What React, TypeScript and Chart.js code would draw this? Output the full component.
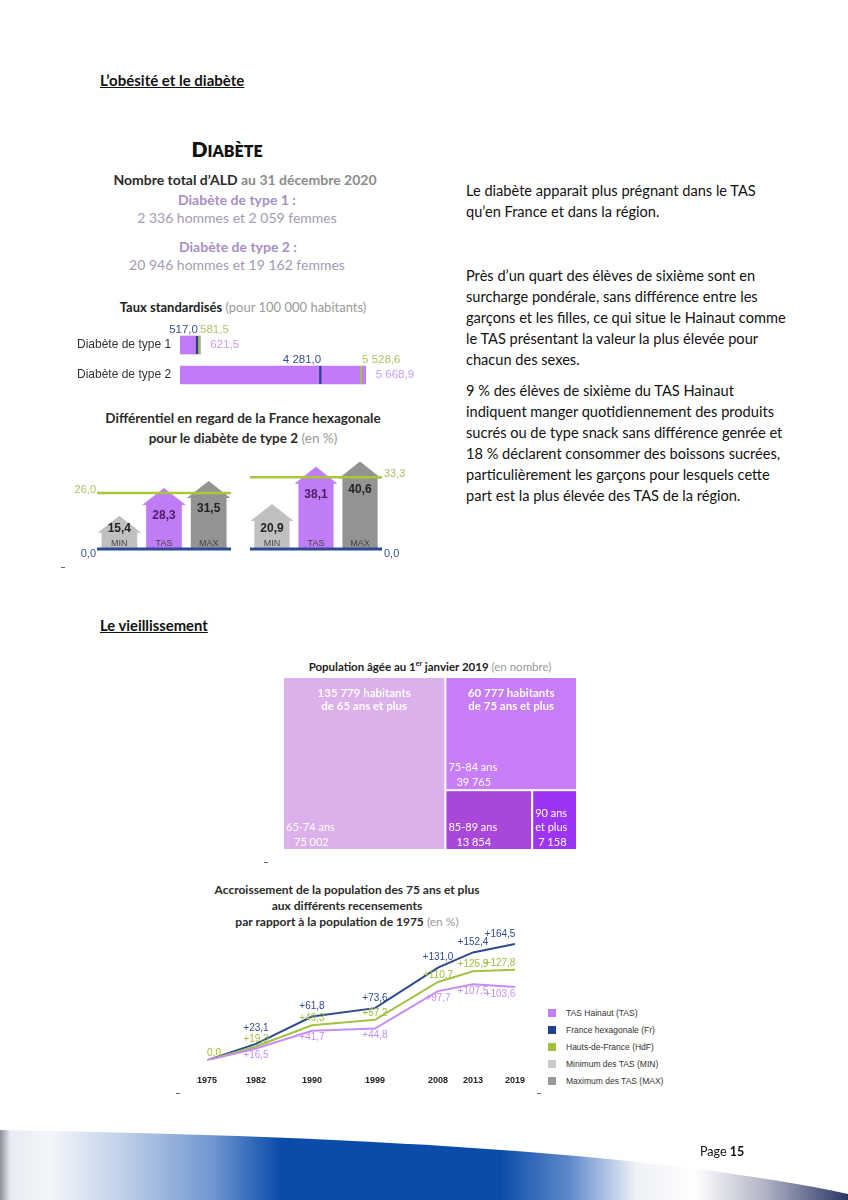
import React, { useEffect, useRef } from "react";
import { Chart, registerables } from "chart.js";

Chart.register(...registerables);

const FONT = "Lato, 'Open Sans', sans-serif";
const AR = "'Liberation Sans', Arial, sans-serif";

// ---------- data ----------
const growthYears = [1975, 1982, 1990, 1999, 2008, 2013, 2019];
const growthTas = [0, 16.5, 41.7, 44.8, 97.7, 107.5, 103.6];
const growthFr = [0, 23.1, 61.8, 73.6, 131.0, 152.4, 164.5];
const growthHdf = [0, 19.3, 49.3, 57.2, 110.7, 125.9, 127.8];
const growthLegend = [
  "TAS Hainaut (TAS)",
  "France hexagonale (Fr)",
  "Hauts-de-France (HdF)",
  "Minimum des TAS (MIN)",
  "Maximum des TAS (MAX)",
];

const rateCategories = ["Diabète de type 1", "Diabète de type 2"];
const rateTas = [621.5, 5668.9];
const rateFr = [517.0, 4281.0];
const rateHdf = [581.5, 5528.6];

const diffCategories = ["MIN", "TAS", "MAX"];
const diffLeft = [15.4, 28.3, 31.5];
const diffRight = [20.9, 38.1, 40.6];
const diffRefLeft = 26.0;
const diffRefRight = 33.3;

const ageLabels = ["65-74 ans", "75-84 ans", "85-89 ans", "90 ans et plus"];
const ageValues = [75002, 39765, 13854, 7158];

// ---------- styles ----------
const C_FR = "#2b4a8e";
const C_HDF = "#a3c140";
const legendColors = ["#c27ef6", "#1f3f8f", "#9fbf3b", "#c9c9c9", "#9a9a9a"];
const ageColors = ["#dcb0ea", "#c77ef6", "#a947da", "#9d33f3"];

function fr(v: number, d = 1) {
  const s = v.toFixed(d);
  const [i, f] = s.split(".");
  const ii = i.replace(/\B(?=(\d{3})+(?!\d))/g, " ");
  return f ? ii + "," + f : ii;
}

const common: any = {
  animation: false,
  responsive: true,
  maintainAspectRatio: false,
  events: [],
  plugins: { legend: { display: false }, tooltip: { enabled: false } },
};

function ChartBox({ x, y, w, h, make }: any) {
  const ref = useRef<HTMLCanvasElement>(null);
  useEffect(() => {
    const chart = new Chart(ref.current as HTMLCanvasElement, make());
    return () => chart.destroy();
  }, []);
  return (
    <div style={{ position: "absolute", left: x, top: y, width: w, height: h }}>
      <canvas ref={ref} />
    </div>
  );
}

// ---------- growth line chart ----------
const growthLabelPlugin = {
  id: "growthLabels",
  afterDatasetsDraw(chart: any) {
    const ctx = chart.ctx;
    ctx.save();
    ctx.font = `10px ${AR}`;
    ctx.textBaseline = "middle";
    ctx.textAlign = "center";
    const dsets = chart.data.datasets;
    const hdfIdx = dsets.findIndex((d: any) => d.role === "hdf");
    const hdfMeta = chart.getDatasetMeta(hdfIdx);
    dsets.forEach((ds: any, di: number) => {
      const meta = chart.getDatasetMeta(di);
      meta.data.forEach((pt: any, i: number) => {
        const v = ds.data[i].y;
        if (i === 0 && ds.role !== "hdf") return;
        const txt = (v > 0 ? "+" : "") + fr(v);
        let x = pt.x;
        let y = pt.y;
        if (ds.role === "fr") {
          y -= 10;
          const gy = hdfMeta.data[i].y - 7;
          if (y > gy - 11) y = gy - 11;
        } else if (ds.role === "hdf") y -= 7;
        else y += 7;
        if (i === 0) x += 7;
        if (i === meta.data.length - 1) x -= 15;
        ctx.fillStyle = ds.labelColor;
        ctx.fillText(txt, x, y);
      });
    });
    ctx.restore();
  },
};

const makeGrowth = () => ({
  type: "line",
  data: {
    datasets: [
      {
        role: "tas",
        label: growthLegend[0],
        data: growthYears.map((x, i) => ({ x, y: growthTas[i] })),
        borderColor: "#c68cf4",
        labelColor: "#c48ef0",
        borderWidth: 2,
        pointRadius: 0,
      },
      {
        role: "hdf",
        label: growthLegend[2],
        data: growthYears.map((x, i) => ({ x, y: growthHdf[i] })),
        borderColor: C_HDF,
        labelColor: "#9fbd3a",
        borderWidth: 2,
        pointRadius: 0,
      },
      {
        role: "fr",
        label: growthLegend[1],
        data: growthYears.map((x, i) => ({ x, y: growthFr[i] })),
        borderColor: C_FR,
        labelColor: "#2d4b8d",
        borderWidth: 2,
        pointRadius: 0,
      },
    ],
  },
  options: {
    ...common,
    layout: { padding: { left: 27, right: 20, top: 15, bottom: 0 } },
    scales: {
      x: {
        type: "linear",
        min: 1975,
        max: 2019,
        grid: { display: false, drawTicks: false },
        border: { display: false },
        afterBuildTicks: (s: any) => {
          s.ticks = growthYears.map((v) => ({ value: v }));
        },
        ticks: {
          autoSkip: false,
          maxRotation: 0,
          padding: 15,
          color: "#222",
          font: { family: AR, size: 9, weight: "bold" },
          callback: (v: any) => String(v),
        },
      },
      y: { display: false, min: 0, max: 170 },
    },
  },
  plugins: [growthLabelPlugin],
});

// ---------- standardised rates (horizontal bars) ----------
const ratePlugin = {
  id: "rateMarks",
  afterDatasetsDraw(chart: any) {
    const ctx = chart.ctx;
    const xs = chart.scales.x;
    const meta = chart.getDatasetMeta(0);
    ctx.save();
    ctx.textBaseline = "middle";
    meta.data.forEach((bar: any, i: number) => {
      const cy = bar.y;
      const hh = bar.height / 2;
      ctx.font = `12px ${AR}`;
      ctx.fillStyle = "#333";
      ctx.textAlign = "left";
      ctx.fillText(rateCategories[i], 7, cy);
      const xf = xs.getPixelForValue(rateFr[i]);
      const xh = xs.getPixelForValue(rateHdf[i]);
      ctx.fillStyle = C_HDF;
      ctx.fillRect(xh - 1, cy - hh, 2.2, hh * 2);
      ctx.fillStyle = "#24418a";
      ctx.fillRect(xf - 1, cy - hh, 2.2, hh * 2);
      ctx.font = `11.5px ${AR}`;
      ctx.fillStyle = "#3b4e8f";
      ctx.textAlign = "right";
      ctx.fillText(fr(rateFr[i]), xf + 1, cy - 15);
      ctx.fillStyle = "#adc466";
      ctx.textAlign = "left";
      ctx.fillText(fr(rateHdf[i]), xh + 1, cy - 15);
      ctx.fillStyle = "#c59cf0";
      ctx.fillText(fr(rateTas[i]), bar.x + 10, cy);
    });
    ctx.restore();
  },
};

const makeRates = () => ({
  type: "bar",
  data: {
    labels: rateCategories,
    datasets: [{ data: rateTas, backgroundColor: "#c17bf8", barThickness: 18 }],
  },
  options: {
    ...common,
    indexAxis: "y",
    layout: { padding: { left: 110, right: 8, top: 10, bottom: 5 } },
    scales: {
      x: { display: false, min: 0, max: 8000 },
      y: { display: false },
    },
  },
  plugins: [ratePlugin],
});

// ---------- arrow charts ----------
function makeArrowPlugin(ref: number, side: "left" | "right") {
  return {
    id: "arrows",
    afterDatasetsDraw(chart: any) {
      const ctx = chart.ctx;
      const ys = chart.scales.y;
      const area = chart.chartArea;
      const meta = chart.getDatasetMeta(0);
      const colors = ["#c0c0c0", "#c07cf5", "#939393"];
      const valColors = ["#222", "#4a1d63", "#222"];
      ctx.save();
      meta.data.forEach((bar: any, i: number) => {
        const sh = bar.width / 2;
        const hw = sh * 1.22;
        const headH = 17;
        const x = bar.x;
        const top = bar.y;
        const base = bar.base;
        ctx.fillStyle = colors[i];
        ctx.beginPath();
        ctx.moveTo(x - sh, base);
        ctx.lineTo(x - sh, top + headH);
        ctx.lineTo(x - hw, top + headH);
        ctx.lineTo(x, top);
        ctx.lineTo(x + hw, top + headH);
        ctx.lineTo(x + sh, top + headH);
        ctx.lineTo(x + sh, base);
        ctx.closePath();
        ctx.fill();
      });
      const yRef = ys.getPixelForValue(ref);
      const y0 = ys.getPixelForValue(0);
      ctx.strokeStyle = "#a8c83c";
      ctx.lineWidth = 2.5;
      ctx.beginPath();
      ctx.moveTo(area.left, yRef);
      ctx.lineTo(area.right, yRef);
      ctx.stroke();
      ctx.strokeStyle = "#2d4a94";
      ctx.lineWidth = 3;
      ctx.beginPath();
      ctx.moveTo(area.left, y0);
      ctx.lineTo(area.right, y0);
      ctx.stroke();
      ctx.font = `11px ${AR}`;
      ctx.textBaseline = "middle";
      if (side === "left") {
        ctx.textAlign = "right";
        ctx.fillStyle = "#a8c060";
        ctx.fillText(fr(ref), area.left - 1, yRef - 3);
        ctx.fillStyle = "#3b4f94";
        ctx.fillText(fr(0), area.left - 1, y0 + 5);
      } else {
        ctx.textAlign = "left";
        ctx.fillStyle = "#a8c060";
        ctx.fillText(fr(ref), area.right + 2, yRef - 3);
        ctx.fillStyle = "#3b4f94";
        ctx.fillText(fr(0), area.right + 2, y0 + 5);
      }
      ctx.textAlign = "center";
      meta.data.forEach((bar: any, i: number) => {
        const v = chart.data.datasets[0].data[i];
        ctx.font = `bold 12px ${AR}`;
        ctx.fillStyle = valColors[i];
        const ly = Math.min(bar.y + 28, bar.base - 20);
        ctx.fillText(fr(v), bar.x, ly);
        ctx.font = `9px ${AR}`;
        ctx.fillStyle = "#444";
        ctx.fillText(diffCategories[i], bar.x, bar.base - 5);
      });
      ctx.restore();
    },
  };
}

const makeArrow = (values: number[], ref: number, side: "left" | "right") => () => ({
  type: "bar",
  data: {
    labels: diffCategories,
    datasets: [
      {
        data: values,
        backgroundColor: "rgba(0,0,0,0)",
        barPercentage: 0.8,
        categoryPercentage: 1,
      },
    ],
  },
  options: {
    ...common,
    layout: {
      padding:
        side === "left"
          ? { left: 27, right: 9, top: 7, bottom: 16 }
          : { left: 10, right: 28, top: 7, bottom: 16 },
    },
    scales: { x: { display: false }, y: { display: false, min: 0, max: 45 } },
  },
  plugins: [makeArrowPlugin(ref, side)],
});

// ---------- treemap ----------
const treemapPlugin = {
  id: "treemap",
  afterDatasetsDraw(chart: any) {
    const ctx = chart.ctx;
    const xs = chart.scales.x;
    const ys = chart.scales.y;
    const total = ageValues.reduce((a, b) => a + b, 0);
    const old = total - ageValues[0];
    const veryOld = ageValues[2] + ageValues[3];
    const splitY = ageValues[1] / old;
    const splitX = ageValues[0] + (ageValues[2] / veryOld) * old;
    const cells = [
      [0, ageValues[0], 0, 1],
      [ageValues[0], total, 0, splitY],
      [ageValues[0], splitX, splitY, 1],
      [splitX, total, splitY, 1],
    ];
    ctx.save();
    const rects = cells.map((c) => {
      const l = xs.getPixelForValue(c[0]);
      const r = xs.getPixelForValue(c[1]);
      const t = ys.getPixelForValue(c[2]);
      const b = ys.getPixelForValue(c[3]);
      return { l: l + 1, r: r - 1, t: t + 1, b: b - 1 };
    });
    rects.forEach((rc, i) => {
      ctx.fillStyle = ageColors[i];
      ctx.fillRect(rc.l, rc.t, rc.r - rc.l, rc.b - rc.t);
    });
    ctx.fillStyle = "#fff";
    ctx.textBaseline = "middle";
    ctx.font = `bold 11.5px ${FONT}`;
    ctx.textAlign = "center";
    const head = (rc: any, n: number, age: number) => {
      const cx = (rc.l + rc.r) / 2;
      ctx.fillText(`${fr(n, 0)} habitants`, cx, rc.t + 15);
      ctx.fillText(`de ${age} ans et plus`, cx, rc.t + 28);
    };
    head(rects[0], total, 65);
    head(rects[1], old, 75);
    ctx.font = `11px ${FONT}`;
    ctx.textAlign = "left";
    rects.forEach((rc, i) => {
      const words = ageLabels[i].split(" ");
      const lines: string[] = [];
      let cur = "";
      words.forEach((w) => {
        const t = cur ? cur + " " + w : w;
        if (ctx.measureText(t).width > rc.r - rc.l - 6 && cur) {
          lines.push(cur);
          cur = w;
        } else cur = t;
      });
      lines.push(cur);
      lines.push(fr(ageValues[i], 0));
      const n = lines.length;
      lines.forEach((ln, k) => {
        const indent = k === n - 1 ? (n > 2 ? 3 : 8) : 0;
        ctx.fillText(ln, rc.l + 2 + indent, rc.b - 7 - (n - 1 - k) * 14.5);
      });
    });
    ctx.restore();
  },
};

const makeTreemap = () => ({
  type: "scatter",
  data: { datasets: [{ data: [] }] },
  options: {
    ...common,
    layout: { padding: 0 },
    scales: {
      x: { display: false, min: 0, max: ageValues.reduce((a, b) => a + b, 0) },
      y: { display: false, min: 0, max: 1, reverse: true },
    },
  },
  plugins: [treemapPlugin],
});

// ---------- page helpers ----------
function Txt({ x, y, w, align = "left", size = 14, weight = 400, color = "#111", lh, children, style }: any) {
  const l = lh ?? Math.round(size * 1.3);
  const centered = align === "center";
  return (
    <div
      style={{
        position: "absolute",
        left: centered ? x + w / 2 : x,
        top: y - l / 2,
        transform: centered ? "translateX(-50%)" : undefined,
        textAlign: align,
        fontSize: size,
        fontWeight: weight,
        color,
        lineHeight: l + "px",
        whiteSpace: "pre",
        ...style,
      }}
    >
      {children}
    </div>
  );
}

function Dash({ x, y }: any) {
  return <div style={{ position: "absolute", left: x, top: y, width: 4, height: 1, background: "#666" }} />;
}

export default function App() {
  const para = { size: 14.6, color: "#111", lh: 21 };
  const gt = { x: 197, w: 300, align: "center", weight: 700, size: 12, color: "#2a2a2a", lh: 16 };
  return (
    <div
      style={{
        position: "absolute",
        left: 0,
        top: 0,
        width: 848,
        height: 1200,
        background: "#fff",
        overflow: "hidden",
        fontFamily: FONT,
      }}
    >
      <Txt x={100} y={80} size={15} weight={700} style={{ textDecoration: "underline" }}>
        L’obésité et le diabète
      </Txt>

      {/* Diabète infographic */}
      <Txt x={127} y={148} w={200} align="center" weight={800} size={21} color="#111">
        D<span style={{ fontSize: 16 }}>IABÈTE</span>
      </Txt>
      <Txt x={95} y={180} w={300} align="center" weight={700} size={14} color="#2b2b2b">
        Nombre total d’ALD<span style={{ color: "#8c8c8c" }}> au 31 décembre 2020</span>
      </Txt>
      <Txt x={87} y={200} w={300} align="center" weight={700} size={14} color="#a58fc4">
        Diabète de type 1 :
      </Txt>
      <Txt x={87} y={218} w={300} align="center" size={14} color="#a49ab4">
        2 336 hommes et 2 059 femmes
      </Txt>
      <Txt x={88} y={247} w={300} align="center" weight={700} size={14} color="#a58fc4">
        Diabète de type 2 :
      </Txt>
      <Txt x={87} y={265} w={300} align="center" size={14} color="#a49ab4">
        20 946 hommes et 19 162 femmes
      </Txt>
      <Txt x={93} y={307} w={300} align="center" weight={700} size={13} color="#222">
        Taux standardisés<span style={{ fontWeight: 400, color: "#9a9a9a" }}> (pour 100 000 habitants)</span>
      </Txt>
      <ChartBox x={70} y={320} w={380} h={75} make={makeRates} />

      <Txt x={93} y={418} w={300} align="center" weight={700} size={13.5} color="#2a2a2a">
        Différentiel en regard de la France hexagonale
      </Txt>
      <Txt x={93} y={438} w={300} align="center" weight={700} size={13.5} color="#2a2a2a">
        pour le diabète de type 2<span style={{ fontWeight: 400, color: "#9a9a9a" }}> (en %)</span>
      </Txt>
      <ChartBox x={70} y={445} w={170} h={120} make={makeArrow(diffLeft, diffRefLeft, "left")} />
      <ChartBox x={240} y={445} w={170} h={120} make={makeArrow(diffRight, diffRefRight, "right")} />
      <Dash x={61} y={567} />

      {/* Right-hand text */}
      <Txt x={466} y={190} {...para}>
        {"Le diabète apparait plus prégnant dans le TAS\nqu’en France et dans la région."}
      </Txt>
      <Txt x={466} y={275} {...para}>
        {
          "Près d’un quart des élèves de sixième sont en\nsurcharge pondérale, sans différence entre les\ngarçons et les filles, ce qui situe le Hainaut comme\nle TAS présentant la valeur la plus élevée pour\nchacun des sexes."
        }
      </Txt>
      <Txt x={466} y={390} {...para}>
        {
          "9 % des élèves de sixième du TAS Hainaut\nindiquent manger quotidiennement des produits\nsucrés ou de type snack sans différence genrée et\n18 % déclarent consommer des boissons sucrées,\nparticulièrement les garçons pour lesquels cette\npart est la plus élevée des TAS de la région."
        }
      </Txt>

      <Txt x={100} y={625} size={14.8} weight={700} style={{ textDecoration: "underline" }}>
        Le vieillissement
      </Txt>

      {/* Treemap */}
      <Txt x={280} y={663} w={300} align="center" weight={700} size={11.5} color="#222">
        Population âgée au 1<sup style={{ fontSize: 7 }}>er</sup> janvier 2019
        <span style={{ fontWeight: 400, color: "#9a9a9a" }}> (en nombre)</span>
      </Txt>
      <ChartBox x={283} y={677} w={294} h={173} make={makeTreemap} />
      <Dash x={264} y={862} />

      {/* Growth chart */}
      <Txt y={890} {...gt}>Accroissement de la population des 75 ans et plus</Txt>
      <Txt y={906} {...gt}>aux différents recensements</Txt>
      <Txt y={922} {...gt}>
        par rapport à la population de 1975<span style={{ fontWeight: 400, color: "#9a9a9a" }}> (en %)</span>
      </Txt>
      <ChartBox x={180} y={925} w={360} h={176} make={makeGrowth} />
      <div style={{ position: "absolute", left: 548, top: 1004, fontFamily: AR }}>
        {growthLegend.map((t, i) => (
          <div key={t} style={{ display: "flex", alignItems: "center", height: 17.2 }}>
            <div style={{ width: 8, height: 8, background: legendColors[i], marginRight: 10 }} />
            <span style={{ fontSize: 8.5, color: "#333" }}>{t}</span>
          </div>
        ))}
      </div>
      <Dash x={176} y={1093} />
      <Dash x={537} y={1093} />

      {/* Footer */}
      <svg style={{ position: "absolute", left: 0, top: 1100 }} width={848} height={100}>
        <defs>
          <linearGradient id="band" x1="0" y1="0" x2="1" y2="0">
            <stop offset="0" stopColor="#8a8f99" />
            <stop offset="0.012" stopColor="#e8ecf2" />
            <stop offset="0.06" stopColor="#f3f6fa" />
            <stop offset="0.15" stopColor="#bccde7" />
            <stop offset="0.25" stopColor="#7097d0" />
            <stop offset="0.33" stopColor="#0b4cab" />
            <stop offset="0.59" stopColor="#0b4cab" />
            <stop offset="0.67" stopColor="#5d88c9" />
            <stop offset="0.75" stopColor="#eef1f6" />
            <stop offset="0.82" stopColor="#ffffff" />
            <stop offset="0.9" stopColor="#b2b6c6" />
            <stop offset="1" stopColor="#2a3565" />
          </linearGradient>
        </defs>
        <path d="M0 30 C 350 36, 650 52, 848 94 L 848 100 L 0 100 Z" fill="url(#band)" />
      </svg>
      <Txt x={700} y={1152} size={12.5} color="#111">
        Page <b>15</b>
      </Txt>
    </div>
  );
}
